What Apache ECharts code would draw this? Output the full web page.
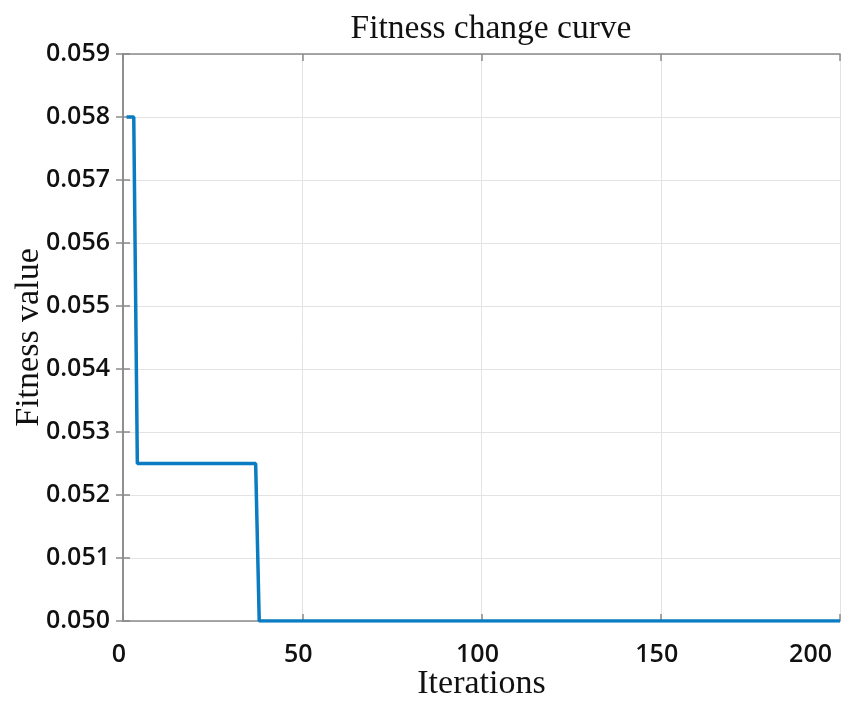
<!DOCTYPE html>
<html>
<head>
<meta charset="utf-8">
<script src="https://cdn.jsdelivr.net/npm/echarts@6/dist/echarts.min.js"></script>
<style>
  html, body { margin: 0; padding: 0; background: #fff; }
  #chart { width: 842px; height: 702px; }
</style>
</head>
<body>
<div id="chart"></div>
<script>
// Best fitness per iteration (breakpoints of the step curve)
var iterations = [1, 3, 4, 37, 38, 200];
var fitness = [0.058, 0.058, 0.0525, 0.0525, 0.050, 0.050];

// Axis ranges and ticks
var xTicks = [0, 50, 100, 150, 200];
var yTicks = [0.050, 0.051, 0.052, 0.053, 0.054, 0.055, 0.056, 0.057, 0.058, 0.059];

var titleText = 'Fitness change curve';
var xName = 'Iterations';
var yName = 'Fitness value';

var points = iterations.map(function (it, i) { return [it, fitness[i]]; });

var serif = '"Liberation Serif", "Times New Roman", serif';
var sans = '"Open Sans", "Noto Sans", sans-serif';
var frame = { show: true, lineStyle: { color: '#8a8a8a', width: 1.5 } };
var ticksIn = { show: true, inside: true, length: 7, lineStyle: { color: '#8a8a8a', width: 1.5 } };
var grid = { show: true, lineStyle: { color: '#e3e3e3', width: 1 } };

var chart = echarts.init(document.getElementById('chart'), null, { renderer: 'canvas' });
chart.setOption({
  animation: false,
  backgroundColor: '#fff',
  title: {
    text: titleText,
    left: 486,
    top: 7,
    textAlign: 'center',
    textStyle: { fontFamily: serif, fontSize: 33.5, fontWeight: 'normal', color: '#111' }
  },
  grid: {
    left: 123, right: 2, top: 54, bottom: 81,
    containLabel: false,
    outerBoundsMode: 'none'
  },
  xAxis: [{
    type: 'value',
    min: xTicks[0],
    max: xTicks[xTicks.length - 1],
    interval: xTicks[1] - xTicks[0],
    name: xName,
    nameLocation: 'middle',
    nameGap: 46,
    nameMoveOverlap: false,
    nameTextStyle: { fontFamily: serif, fontSize: 34, color: '#111' },
    axisLine: frame,
    axisTick: ticksIn,
    splitLine: grid,
    axisLabel: {
      margin: 21,
      fontFamily: sans, fontSize: 25, fontWeight: 600, color: '#111',
      padding: [0, 8, 0, 0],
      alignMaxLabel: 'right'
    }
  }, {
    type: 'value',
    position: 'top',
    min: xTicks[0],
    max: xTicks[xTicks.length - 1],
    interval: xTicks[1] - xTicks[0],
    axisLine: frame,
    axisTick: ticksIn,
    axisLabel: { show: false },
    splitLine: { show: false }
  }],
  yAxis: [{
    type: 'value',
    min: yTicks[0],
    max: yTicks[yTicks.length - 1],
    interval: 0.001,
    name: yName,
    nameLocation: 'middle',
    nameGap: 77,
    nameMoveOverlap: false,
    nameTextStyle: { fontFamily: serif, fontSize: 34, color: '#111' },
    axisLine: frame,
    axisTick: ticksIn,
    splitLine: grid,
    axisLabel: {
      margin: 13,
      fontFamily: sans, fontSize: 25, fontWeight: 600, color: '#111',
      formatter: function (v) { return v.toFixed(3); }
    }
  }, {
    type: 'value',
    position: 'right',
    min: yTicks[0],
    max: yTicks[yTicks.length - 1],
    interval: 0.001,
    axisLine: frame,
    axisTick: ticksIn,
    axisLabel: { show: false },
    splitLine: { show: false }
  }],
  series: [{
    type: 'line',
    data: points,
    showSymbol: false,
    lineStyle: { color: '#0a7cc1', width: 3.5 },
    itemStyle: { color: '#0a7cc1' }
  }]
});
</script>
</body>
</html>
